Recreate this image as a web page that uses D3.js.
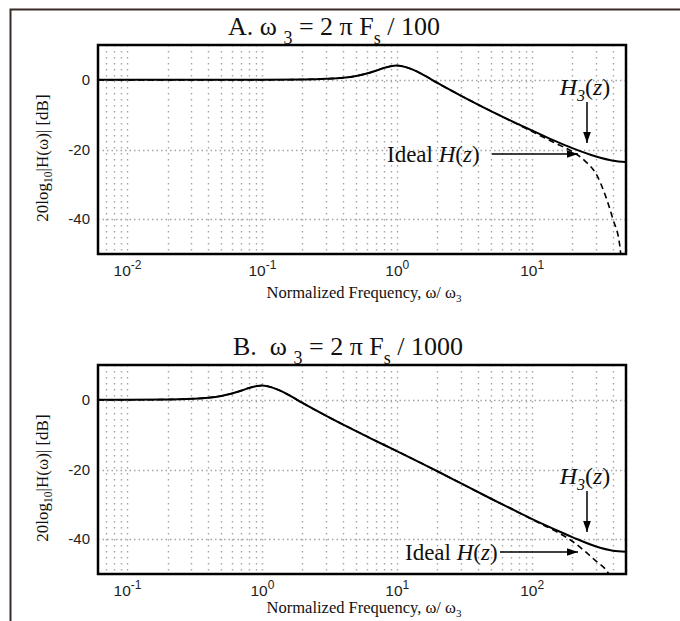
<!DOCTYPE html>
<html>
<head>
<meta charset="utf-8">
<script src="https://cdn.jsdelivr.net/npm/d3@7"></script>
<style>
  html, body { margin: 0; padding: 0; background: #fff; }
  svg { display: block; }
  .serif { font-family: "Liberation Serif", "Times New Roman", serif; }
  .sans { font-family: "Liberation Sans", Arial, sans-serif; }
</style>
</head>
<body>
<svg id="chart" width="680" height="621"></svg>
<script>
// values (normalized frequency, dB)
var freqA = [0.0061, 0.01, 0.03, 0.1, 0.2, 0.3, 0.4, 0.5, 0.6, 0.7, 0.8, 0.9, 1.0, 1.1, 1.3, 1.6, 2, 3, 4, 6, 8, 10, 15, 20, 30, 40, 50];
var h3A = [0, 0, 0, 0, 0.1, 0.3, 0.6, 1.1, 1.8, 2.6, 3.4, 3.9, 4.1, 3.9, 3.0, 1.3, -0.9, -4.6, -7.1, -10.5, -12.8, -14.5, -17.6, -19.6, -22.0, -23.2, -23.6];
var idealFreqA = [0.0061, 0.01, 0.03, 0.1, 0.2, 0.3, 0.4, 0.5, 0.6, 0.7, 0.8, 0.9, 1.0, 1.1, 1.3, 1.6, 2, 3, 4, 6, 8, 10, 15, 20, 25, 30, 35, 40, 45, 48];
var idealA = [0, 0, 0, 0, 0.1, 0.3, 0.6, 1.1, 1.8, 2.6, 3.4, 3.9, 4.1, 3.9, 3.0, 1.3, -0.9, -4.6, -7.1, -10.5, -12.9, -14.8, -18.2, -20.6, -23.4, -27.0, -33.0, -40.0, -47.7, -60];

var freqB = [0.061, 0.1, 0.2, 0.3, 0.4, 0.5, 0.6, 0.7, 0.8, 0.9, 1.0, 1.1, 1.3, 1.6, 2, 3, 4, 6, 8, 10, 20, 30, 50, 70, 100, 150, 200, 300, 400, 500];
var h3B = [0, 0, 0.1, 0.3, 0.6, 1.1, 1.8, 2.6, 3.4, 3.9, 4.1, 3.9, 3.0, 1.3, -0.9, -4.6, -7.1, -10.5, -12.9, -14.7, -20.5, -24.0, -28.4, -31.2, -34.2, -37.3, -39.4, -42.1, -43.3, -43.6];
var idealFreqB = [0.061, 0.1, 0.2, 0.3, 0.4, 0.5, 0.6, 0.7, 0.8, 0.9, 1.0, 1.1, 1.3, 1.6, 2, 3, 4, 6, 8, 10, 20, 30, 50, 70, 100, 150, 200, 250, 300, 355, 400];
var idealB = [0, 0, 0.1, 0.3, 0.6, 1.1, 1.8, 2.6, 3.4, 3.9, 4.1, 3.9, 3.0, 1.3, -0.9, -4.6, -7.1, -10.5, -12.9, -14.7, -20.5, -24.0, -28.4, -31.2, -34.3, -37.7, -40.6, -43.6, -46.3, -48.8, -52];

var yTicks = [-40, -20, 0];
var decadesA = [0.01, 0.1, 1, 10];
var decadesB = [0.1, 1, 10, 100];
var yDomain = [-50, 10];

var svg = d3.select('#chart');

// outer frame (top and left only)
svg.append('path')
    .attr('d', 'M10.5,621 L10.5,9.5 L680,9.5')
    .attr('fill', 'none')
    .attr('stroke', '#3a2a27')
    .attr('stroke-width', 2);

svg.append('defs').append('marker')
    .attr('id', 'arrow')
    .attr('viewBox', '0 0 10 10')
    .attr('refX', 10).attr('refY', 5)
    .attr('markerWidth', 11).attr('markerHeight', 11)
    .attr('markerUnits', 'userSpaceOnUse')
    .attr('orient', 'auto')
    .append('path')
    .attr('d', 'M0,1.5 L10,5 L0,8.5 Z')
    .attr('fill', '#000');

function minorTicks(domain) {
    var out = [];
    var lo = Math.floor(Math.log10(domain[0])), hi = Math.ceil(Math.log10(domain[1]));
    for (var e = lo; e <= hi; e++) {
        for (var m = 1; m < 10; m++) {
            var v = m * Math.pow(10, e);
            if (v >= domain[0] && v <= domain[1]) out.push(v);
        }
    }
    return out;
}

function drawPanel(opts) {
    var
    left = 98, right = 626,
    top = opts.top, bottom = opts.top + 209,
    g = svg.append('g'),
    x = d3.scaleLog().domain(opts.xDomain).range([left, right]),
    y = d3.scaleLinear().domain(yDomain).range([bottom, top]),
    clipId = 'clip' + opts.key;

    g.append('clipPath').attr('id', clipId)
        .append('rect').attr('x', left).attr('y', top)
        .attr('width', right - left).attr('height', bottom - top);

    // vertical grid, every minor and major decade line
    g.append('g').selectAll('line').data(minorTicks(opts.xDomain)).enter().append('line')
        .attr('x1', function (d) { return Math.round(x(d)) + 0.5; })
        .attr('x2', function (d) { return Math.round(x(d)) + 0.5; })
        .attr('y1', top).attr('y2', bottom)
        .attr('stroke', '#a4a4aa').attr('stroke-width', 1.4)
        .attr('stroke-dasharray', '1.5,4.5');

    // horizontal grid
    g.append('g').selectAll('line').data(yTicks).enter().append('line')
        .attr('x1', left).attr('x2', right)
        .attr('y1', function (d) { return Math.round(y(d)) + 0.5; })
        .attr('y2', function (d) { return Math.round(y(d)) + 0.5; })
        .attr('stroke', '#a4a4aa').attr('stroke-width', 1.4)
        .attr('stroke-dasharray', '1.5,3');

    // y axis labels
    var yAxis = d3.axisLeft(y).tickValues(yTicks).tickSize(0).tickPadding(8)
        .tickFormat(function (d) { return String(d); });
    var yg = g.append('g').attr('transform', 'translate(' + left + ',0)').call(yAxis);
    yg.select('.domain').remove();
    yg.selectAll('text').attr('class', 'sans').attr('font-size', 15).attr('fill', '#222');

    // x axis labels with superscript exponents
    var xAxis = d3.axisBottom(x).tickValues(opts.decades).tickSize(0).tickPadding(11)
        .tickFormat(function () { return ''; });
    var xg = g.append('g').attr('transform', 'translate(0,' + bottom + ')').call(xAxis);
    xg.select('.domain').remove();
    xg.selectAll('text').attr('class', 'sans').attr('font-size', 15.5).attr('fill', '#222')
        .each(function (d) {
            var t = d3.select(this), e = Math.round(Math.log10(d));
            t.append('tspan').text('10');
            t.append('tspan').attr('dy', -7).attr('font-size', 12).text(e);
        });

    // curves
    var line = d3.line()
        .x(function (d) { return x(d[0]); })
        .y(function (d) { return y(d[1]); })
        .curve(d3.curveMonotoneX);
    var curves = g.append('g').attr('clip-path', 'url(#' + clipId + ')');
    curves.append('path')
        .datum(d3.zip(opts.idealFreq, opts.ideal))
        .attr('d', line)
        .attr('fill', 'none').attr('stroke', '#000').attr('stroke-width', 1.6)
        .attr('stroke-dasharray', '6,4');
    curves.append('path')
        .datum(d3.zip(opts.freq, opts.h3))
        .attr('d', line)
        .attr('fill', 'none').attr('stroke', '#000').attr('stroke-width', 2);

    // box
    g.append('rect')
        .attr('x', left).attr('y', top)
        .attr('width', right - left).attr('height', bottom - top)
        .attr('fill', 'none').attr('stroke', '#000').attr('stroke-width', 2.5);

    // title
    var title = g.append('text').attr('class', 'serif')
        .attr('x', opts.titleX).attr('y', top - 10)
        .attr('font-size', 26).attr('fill', '#111');
    title.append('tspan').text(opts.titleHead + '\u03c9\u00a0');
    title.append('tspan').attr('dy', 9).attr('font-size', 18).text('3');
    title.append('tspan').attr('dy', -9).text('\u00a0= 2 \u03c0 F');
    title.append('tspan').attr('dy', 9).attr('font-size', 18).text('s');
    title.append('tspan').attr('dy', -9).text('\u00a0/ ' + opts.titleTail);

    // y label
    var yl = g.append('text').attr('class', 'serif')
        .attr('transform', 'translate(48,' + (top + 113) + ') rotate(-90)')
        .attr('text-anchor', 'middle').attr('font-size', 17).attr('fill', '#111');
    yl.append('tspan').text('20log');
    yl.append('tspan').attr('dy', 4).attr('font-size', 11.5).text('10');
    yl.append('tspan').attr('dy', -4).text('|H(\u03c9)| [dB]');

    // x label
    var xl = g.append('text').attr('class', 'serif')
        .attr('x', 364).attr('y', opts.xLabelY)
        .attr('text-anchor', 'middle').attr('font-size', 16.5).attr('fill', '#111');
    xl.append('tspan').text('Normalized Frequency, \u03c9/ \u03c9');
    xl.append('tspan').attr('dy', 4).attr('font-size', 11).text('3');

    // annotations
    var h3 = g.append('text').attr('class', 'serif')
        .attr('x', 585).attr('y', opts.h3Y)
        .attr('text-anchor', 'middle').attr('font-size', 24).attr('fill', '#111');
    h3.append('tspan').attr('font-style', 'italic').text('H');
    h3.append('tspan').attr('dy', 6).attr('font-size', 16).attr('font-style', 'italic').text('3');
    h3.append('tspan').attr('dy', -6).text('(');
    h3.append('tspan').attr('font-style', 'italic').text('z');
    h3.append('tspan').text(')');

    g.append('line')
        .attr('x1', 587).attr('x2', 587)
        .attr('y1', opts.h3Y + 7).attr('y2', opts.h3Y + 48)
        .attr('stroke', '#000').attr('stroke-width', 1.5)
        .attr('marker-end', 'url(#arrow)');

    var ideal = g.append('text').attr('class', 'serif')
        .attr('x', opts.idealX).attr('y', opts.idealY)
        .attr('font-size', 23).attr('fill', '#111');
    ideal.append('tspan').text('Ideal\u00a0');
    ideal.append('tspan').attr('font-style', 'italic').text('H');
    ideal.append('tspan').text('(');
    ideal.append('tspan').attr('font-style', 'italic').text('z');
    ideal.append('tspan').text(')');

    g.append('line')
        .attr('x1', opts.arrowX0).attr('x2', 578)
        .attr('y1', opts.idealY - 8).attr('y2', opts.idealY - 8)
        .attr('stroke', '#000').attr('stroke-width', 1.5)
        .attr('marker-end', 'url(#arrow)');
}

drawPanel({
    key: 'A', top: 45, xDomain: [0.0061, 50], decades: decadesA,
    freq: freqA, h3: h3A, idealFreq: idealFreqA, ideal: idealA,
    titleX: 228, titleHead: 'A.\u00a0', titleTail: '100', xLabelY: 298,
    h3Y: 95, idealX: 387, idealY: 162, arrowX0: 492
});

drawPanel({
    key: 'B', top: 365, xDomain: [0.061, 500], decades: decadesB,
    freq: freqB, h3: h3B, idealFreq: idealFreqB, ideal: idealB,
    titleX: 233, titleHead: 'B.\u00a0\u00a0', titleTail: '1000', xLabelY: 613,
    h3Y: 484, idealX: 405, idealY: 560, arrowX0: 500
});
</script>
</body>
</html>
